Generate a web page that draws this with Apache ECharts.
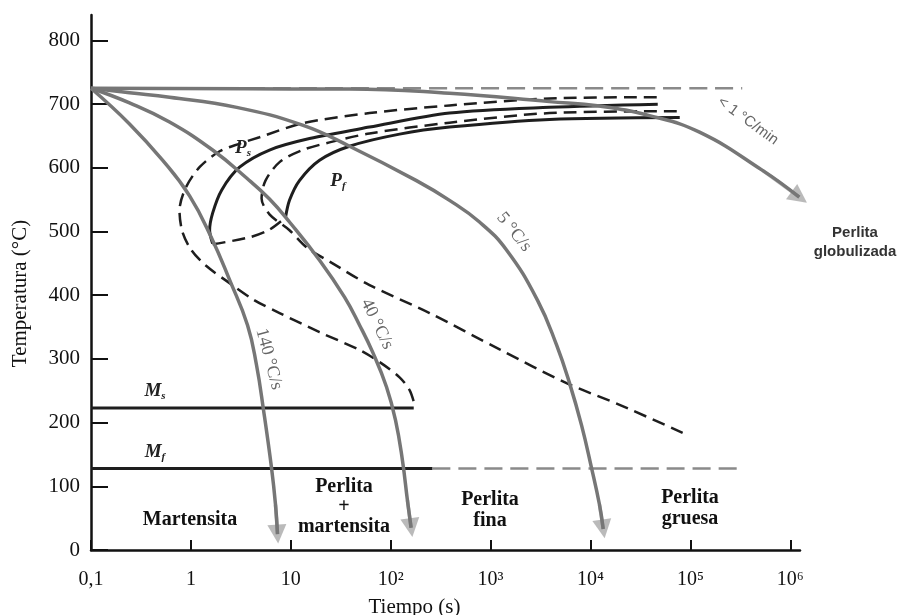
<!DOCTYPE html>
<html>
<head>
<meta charset="utf-8">
<title>Diagrama de enfriamiento continuo</title>
<script src="https://cdn.jsdelivr.net/npm/echarts@6/dist/echarts.min.js"></script>
<style>
  html, body { margin: 0; padding: 0; background: #fff; }
  #chart { width: 898px; height: 615px; }
</style>
</head>
<body>
<div id="chart"></div>
<script>
// ejes
const xTickValues = [0.1, 1, 10, 100, 1e3, 1e4, 1e5, 1e6];
const xTickLabels = ['0,1', '1', '10', '10²', '10³', '10⁴', '10⁵', '10⁶'];
const yTickValues = [0, 100, 200, 300, 400, 500, 600, 700, 800];

// lineas horizontales [tiempo (s), temperatura (°C)]
const eutectoid = [[0.1, 725], [3.3e5, 725]];
const msLine = [[0.1, 223], [170, 223]];
const mfSolid = [[0.1, 128], [262, 128]];
const mfDashed = [[262, 128], [3.3e5, 128]];

// curvas de enfriamiento
const cool140 = [[0.1, 725], [0.243, 669], [0.52, 612], [0.97, 556], [1.61, 490], [2.44, 424],
  [3.69, 353], [4.54, 290], [5.33, 220], [6.41, 129], [7.03, 71], [7.36, 25]];
const cool40 = [[0.1, 725], [0.243, 702], [0.611, 672], [1.65, 628], [3.61, 584], [6.12, 551],
  [9.7, 515], [19.4, 455], [34.5, 397], [48.8, 353], [65.8, 311], [90.8, 256], [111.7, 204],
  [131, 141], [147, 78], [160, 35]];
const cool5 = [[0.1, 725], [0.243, 718], [0.611, 711], [2.87, 695], [13.1, 667], [38.7, 634],
  [181, 580], [388, 549], [774, 515], [1443, 471], [2951, 392], [4571, 322], [6166, 262],
  [8128, 196], [10233, 129], [12303, 71], [13400, 33]];
const coolSlow = [[0.1, 725], [9.7, 724], [38.7, 724], [388, 717], [3880, 704], [12300, 697],
  [38900, 682], [123300, 656], [527000, 596], [1230000, 554]];

// curvas de transformacion
const isoStart = [[46000, 711], [3880, 709], [388, 698], [61.4, 686], [13.1, 670], [4.86, 648],
  [3.07, 638], [1.94, 626], [1.22, 601], [0.883, 568], [0.769, 533], [0.824, 499], [1.01, 471],
  [1.4, 447], [2.44, 419], [4.34, 392], [7.72, 372], [19.4, 342], [48.8, 314], [80.9, 293],
  [122.7, 271], [154.5, 251], [173, 229]];
const pearliteStart = [[47100, 700], [3880, 695], [388, 686], [61.4, 664], [15.4, 646], [6.12, 628],
  [3.07, 601], [2.03, 565], [1.65, 529], [1.54, 502], [1.65, 481]];
const stopLine = [[1.65, 480], [3.87, 491], [6.12, 503], [8.85, 522]];
const pearliteEnd = [[78200, 679], [3880, 676], [388, 664], [122.7, 653], [38.7, 634], [19.4, 612],
  [12.2, 580], [9.7, 549], [8.85, 522]];
const isoEnd = [[73000, 689], [3880, 686], [388, 671], [61.4, 654], [24.4, 640], [13.1, 628],
  [7.72, 609], [5.58, 580], [5.1, 552], [6.12, 527], [9.7, 502], [14.4, 475], [26.2, 450],
  [61.4, 416], [245, 372], [1230, 315], [5754, 262], [19540, 228], [83600, 184]];

const GRAY = '#767676';
const BLACK = '#1e1e1e';
const serif = '"Liberation Serif", "Times New Roman", serif';
const sans = '"Liberation Sans", Arial, sans-serif';

function line(data, color, width, type, z, smooth) {
  return {
    type: 'line', data: data, symbol: 'none', smooth: smooth || 0.3, clip: false,
    lineStyle: { color: color, width: width, type: type, cap: 'butt' },
    z: z, silent: true, animation: false
  };
}

const coolCurves = [cool140, cool40, cool5, coolSlow];

const series = [
  line(eutectoid, '#8a8a8a', 2.5, [18, 8], 2),
  line(msLine, BLACK, 3, 'solid', 2),
  line(mfSolid, BLACK, 3, 'solid', 2),
  line(mfDashed, '#8a8a8a', 2.5, [18, 8], 2),
  line(isoStart, BLACK, 2.5, [13, 7], 2),
  line(pearliteStart, BLACK, 3, 'solid', 2),
  line(stopLine, BLACK, 2.5, [13, 7], 2),
  line(pearliteEnd, BLACK, 3, 'solid', 2),
  line(isoEnd, BLACK, 2.5, [13, 7], 2)
];
coolCurves.forEach(c => series.push(line(c, GRAY, 3.5, 'solid', 4, 0.45)));
// puntas de flecha sobre el ultimo tramo de cada curva
series.push({
  type: 'lines', coordinateSystem: 'cartesian2d', polyline: false, clip: false,
  symbol: ['none', 'triangle'], symbolSize: 19, silent: true, animation: false, z: 5,
  lineStyle: { color: GRAY, width: 3.5, curveness: 0 },
  data: coolCurves.map(c => ({ coords: [c[c.length - 2], c[c.length - 1]] }))
});

function txt(x, y, text, font, opts) {
  return Object.assign({
    type: 'text', x: x, y: y, silent: true, z: 10,
    style: Object.assign({ text: text, font: font, fill: '#111', align: 'center', verticalAlign: 'middle' }, opts && opts.style)
  }, opts && opts.el);
}
const deg = Math.PI / 180;
const sub = {
  m: { fontFamily: serif, fontStyle: 'italic', fontWeight: 'bold', fontSize: 19, fill: '#222', lineHeight: 22 },
  s: { fontFamily: serif, fontStyle: 'italic', fontWeight: 'bold', fontSize: 11, fill: '#222', lineHeight: 22, verticalAlign: 'bottom' }
};

const chart = echarts.init(document.getElementById('chart'));
chart.setOption({
  backgroundColor: '#fff',
  animation: false,
  grid: { left: 91, right: 98, top: 15, bottom: 65, containLabel: false, outerBoundsMode: 'none' },
  xAxis: {
    type: 'log', logBase: 10, min: 0.1, max: 1.25e6,
    name: 'Tiempo (s)', nameLocation: 'middle', nameGap: 47,
    nameTextStyle: { fontFamily: serif, fontSize: 21, color: '#111', padding: [0, 62, 0, 0] },
    axisLine: { lineStyle: { color: '#111', width: 2.5 } },
    axisTick: { inside: true, length: 10, customValues: xTickValues, lineStyle: { color: '#111', width: 2 } },
    axisLabel: {
      customValues: xTickValues, margin: 20, fontFamily: serif, fontSize: 20, color: '#111',
      formatter: v => xTickLabels[xTickValues.findIndex(t => Math.abs(Math.log10(t) - Math.log10(v)) < 1e-6)]
    },
    splitLine: { show: false }
  },
  yAxis: {
    type: 'value', min: 0, max: 840,
    name: 'Temperatura (°C)', nameLocation: 'middle', nameGap: 60, nameRotate: 90,
    nameTextStyle: { fontFamily: serif, fontSize: 21, color: '#111', padding: [0, 22, 0, 0] },
    axisLine: { show: true, lineStyle: { color: '#111', width: 2.5 } },
    axisTick: { show: true, inside: true, length: 17, customValues: yTickValues, lineStyle: { color: '#111', width: 2 } },
    axisLabel: { customValues: yTickValues, margin: 11, fontFamily: serif, fontSize: 21, color: '#111' },
    splitLine: { show: false }
  },
  series: series,
  graphic: [
    txt(190, 520, 'Martensita', 'bold 20px ' + serif),
    txt(344, 507, 'Perlita\n+\nmartensita', 'bold 20px ' + serif, { style: { lineHeight: 20 } }),
    txt(490, 510, 'Perlita\nfina', 'bold 20px ' + serif, { style: { lineHeight: 21 } }),
    txt(690, 508, 'Perlita\ngruesa', 'bold 20px ' + serif, { style: { lineHeight: 21 } }),
    txt(855, 242, 'Perlita\nglobulizada', 'bold 15px ' + sans, { style: { lineHeight: 19, fill: '#333' } }),
    txt(748, 121, '< 1 °C/min', '15px ' + sans, { style: { fill: '#666' }, el: { rotation: -36 * deg } }),
    txt(514, 232, '5 °C/s', '18px ' + serif, { style: { fill: '#666' }, el: { rotation: -51 * deg } }),
    txt(377, 324, '40 °C/s', '18px ' + serif, { style: { fill: '#666' }, el: { rotation: -64 * deg } }),
    txt(269, 359, '140 °C/s', '18px ' + serif, { style: { fill: '#666' }, el: { rotation: -75 * deg } }),
    txt(155, 391, '{m|M}{s|s}', '19px ' + serif, { style: { rich: sub } }),
    txt(155, 452, '{m|M}{s|f}', '19px ' + serif, { style: { rich: sub } }),
    txt(243, 148, '{m|P}{s|s}', '19px ' + serif, { style: { rich: sub } }),
    txt(338, 181, '{m|P}{s|f}', '19px ' + serif, { style: { rich: sub } })
  ]
});
</script>
</body>
</html>
